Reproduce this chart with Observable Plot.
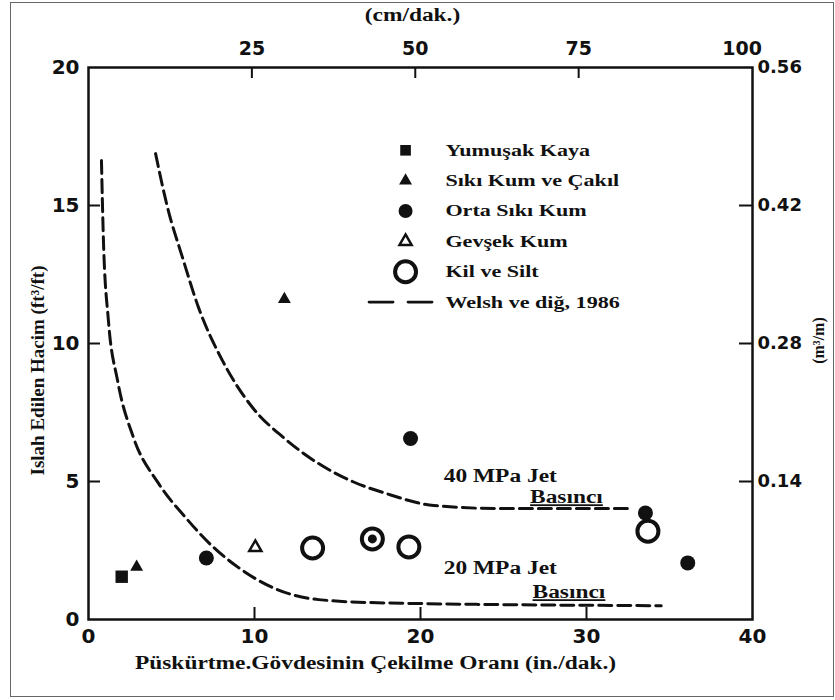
<!DOCTYPE html>
<html><head><meta charset="utf-8">
<script src="https://cdn.jsdelivr.net/npm/d3@7"></script>
<script src="https://cdn.jsdelivr.net/npm/@observablehq/plot@0.6"></script>
<style>
body{margin:0;background:#fff;}
#wrap{position:relative;width:835px;height:700px;overflow:hidden;}
#wrap svg{position:absolute;left:0;top:0;}
#border{position:absolute;left:10px;top:2px;width:824px;height:695px;border:1.5px solid #666;box-sizing:border-box;pointer-events:none;}
</style></head><body><div id="wrap"></div>
<script>
// ---- data ----
const yumusakKaya = [{x: 2.0, y: 1.55}];
const sikiKumCakil = [{x: 2.9, y: 1.9}, {x: 11.8, y: 11.6}];
const ortaSikiKum = [{x: 7.1, y: 2.23}, {x: 19.4, y: 6.56}, {x: 33.55, y: 3.86}, {x: 36.1, y: 2.05}];
const ortaSikiKumInside = [{x: 17.1, y: 2.92}];
const gevsekKum = [{x: 10.05, y: 2.61}];
const kilSilt = [{x: 13.5, y: 2.59}, {x: 17.1, y: 2.92}, {x: 19.3, y: 2.63}, {x: 33.7, y: 3.2}];
const curve40x = [4.04, 4.76, 5.66, 6.63, 8.07, 9.88, 11.75, 13.86, 15.9, 17.9, 20.8, 24.8, 32.8];
const curve40y = [16.88, 14.93, 13.12, 11.3, 9.38, 7.68, 6.59, 5.65, 5.0, 4.57, 4.13, 4.02, 4.02];
const curve20x = [0.78, 0.9, 1.2, 1.75, 2.71, 4.22, 5.84, 7.47, 9.04, 11.08, 13.86, 17.9, 34.5];
const curve20y = [16.63, 13.73, 10.83, 8.66, 6.59, 4.93, 3.7, 2.65, 1.88, 1.16, 0.72, 0.6, 0.5];
const legendLabels = ["Yumuşak Kaya", "Sıkı Kum ve Çakıl", "Orta Sıkı Kum", "Gevşek Kum", "Kil ve Silt", "Welsh ve diğ, 1986"];
const xTicks = [0, 10, 20, 30, 40];
const yTicks = [0, 5, 10, 15, 20];
const cmTicks = [25, 50, 75, 100];
const m3Ticks = [0.14, 0.28, 0.42, 0.56];
const xTitle = "Püskürtme.Gövdesinin Çekilme Oranı (in./dak.)";
const yTitle = "Islah Edilen Hacim (ft³/ft)";
const topTitle = "(cm/dak.)";
const rightTitle = "(m³/m)";
const annotations = [
  {text: "40 MPa Jet", x: 21.4, y: 5.2},
  {text: "Basıncı", x: 26.6, y: 4.42},
  {text: "20 MPa Jet", x: 21.4, y: 1.85},
  {text: "Basıncı", x: 26.75, y: 0.98}
];

const CM_PER_IN = 2.54, M3_PER_FT3 = 0.028;
const W = 835, H = 700, ML = 88, MR = 83, MT = 67, MB = 81;
const innerW = W - ML - MR, innerH = H - MT - MB;
const curve40 = curve40x.map((x, i) => ({x, y: curve40y[i]}));
const curve20 = curve20x.map((x, i) => ({x, y: curve20y[i]}));
const legendRows = legendLabels.map((label, i) => ({label, y: 17 - 1.1 * i}));
const LX = 19.1, LT = 21.5;
const serif = "Liberation Serif, Times New Roman, serif";
const sans = "DejaVu Sans, sans-serif";
const ink = "#111";
const dash = "13,6";

const chart = Plot.plot({
  width: W, height: H,
  marginLeft: ML, marginRight: MR, marginTop: MT, marginBottom: MB,
  x: {domain: [0, 40]},
  y: {domain: [0, 20]},
  style: {background: "transparent", color: ink},
  marks: [
    Plot.frame({stroke: ink, strokeWidth: 2.5}),
    // axes (labels only; ticks drawn inward below)
    Plot.axisX(xTicks, {anchor: "bottom", tickSize: 0, tickPadding: 9, label: null, fontFamily: sans, fontWeight: "bold", fontSize: 20}),
    Plot.axisX(cmTicks.map(c => c / CM_PER_IN), {anchor: "top", tickSize: 0, tickPadding: 13, label: null, tickFormat: d => Math.round(d * CM_PER_IN), fontFamily: sans, fontWeight: "bold", fontSize: 19}),
    Plot.axisY(yTicks, {anchor: "left", tickSize: 0, tickPadding: 9, label: null, fontFamily: sans, fontWeight: "bold", fontSize: 20}),
    Plot.axisY(m3Ticks.map(m => m / M3_PER_FT3), {anchor: "right", tickSize: 0, tickPadding: 5, label: null, tickFormat: d => (d * M3_PER_FT3).toFixed(2), fontFamily: sans, fontWeight: "bold", fontSize: 18}),
    Plot.ruleX(xTicks.slice(1, -1), {insetTop: innerH - 12, stroke: ink, strokeWidth: 2}),
    Plot.ruleX(cmTicks.slice(0, -1).map(c => c / CM_PER_IN), {insetBottom: innerH - 11, stroke: ink, strokeWidth: 2}),
    Plot.ruleY(yTicks.slice(1, -1), {insetRight: innerW - 12, stroke: ink, strokeWidth: 2}),
    Plot.ruleY(m3Ticks.slice(0, -1).map(m => m / M3_PER_FT3), {insetLeft: innerW - 13, stroke: ink, strokeWidth: 2}),
    // titles
    Plot.text([topTitle], {frameAnchor: "top", lineAnchor: "middle", dy: -52, dx: -8, fontFamily: serif, fontWeight: "bold", fontSize: 18, fill: ink}),
    Plot.text([xTitle], {frameAnchor: "bottom", lineAnchor: "middle", dy: 44, dx: -45, fontFamily: serif, fontWeight: "bold", fontSize: 18, fill: ink}),
    Plot.text([yTitle], {frameAnchor: "left", textAnchor: "middle", lineAnchor: "middle", rotate: -90, dx: -51, dy: 27, fontFamily: serif, fontWeight: "bold", fontSize: 19, fill: ink}),
    Plot.text([rightTitle], {frameAnchor: "right", textAnchor: "middle", lineAnchor: "middle", rotate: -90, dx: 66, dy: -3, fontFamily: serif, fontWeight: "bold", fontSize: 16, fill: ink}),
    // Welsh et al. 1986 curves
    Plot.line(curve40, {x: "x", y: "y", curve: "monotone-x", stroke: ink, strokeWidth: 3, strokeDasharray: dash}),
    Plot.line(curve20, {x: "x", y: "y", curve: "monotone-x", stroke: ink, strokeWidth: 3, strokeDasharray: dash}),
    // data points
    Plot.dot(yumusakKaya, {x: "x", y: "y", symbol: "square", r: 7, fill: ink}),
    Plot.dot(sikiKumCakil, {x: "x", y: "y", symbol: "triangle", r: 4.8, fill: ink}),
    Plot.dot(ortaSikiKum, {x: "x", y: "y", r: 7.5, fill: ink}),
    Plot.dot(gevsekKum, {x: "x", y: "y", symbol: "triangle", r: 4.5, fill: "white", stroke: ink, strokeWidth: 2.5}),
    Plot.dot(kilSilt, {x: "x", y: "y", r: 10.5, fill: "none", stroke: ink, strokeWidth: 4}),
    Plot.dot(ortaSikiKumInside, {x: "x", y: "y", r: 4.5, fill: ink}),
    // legend
    Plot.dot([legendRows[0]], {x: LX, y: "y", symbol: "square", r: 6, fill: ink}),
    Plot.dot([legendRows[1]], {x: LX, y: "y", symbol: "triangle", r: 4.8, fill: ink}),
    Plot.dot([legendRows[2]], {x: LX, y: "y", r: 7, fill: ink}),
    Plot.dot([legendRows[3]], {x: LX, y: "y", symbol: "triangle", r: 4.5, fill: "white", stroke: ink, strokeWidth: 2.5}),
    Plot.dot([legendRows[4]], {x: LX, y: "y", r: 10.5, fill: "none", stroke: ink, strokeWidth: 4}),
    Plot.line([{x: LX - 2.2, y: legendRows[5].y}, {x: LX + 1.6, y: legendRows[5].y}], {x: "x", y: "y", stroke: ink, strokeWidth: 2.8, strokeDasharray: "24,15"}),
    Plot.text(legendRows, {x: LT, y: "y", text: "label", textAnchor: "start", fontFamily: serif, fontWeight: "bold", fontSize: 17, fill: ink}),
    // curve annotations
    Plot.text(annotations, {x: "x", y: "y", text: "text", textAnchor: "start", fontFamily: serif, fontWeight: "bold", fontSize: 18, fill: ink})
  ]
});

const wrap = document.getElementById("wrap");
wrap.appendChild(chart);
const border = document.createElement("div");
border.id = "border";
wrap.appendChild(border);

// the scanned original is horizontally widened: widen horizontal serif texts
const STRETCH = 1.3;
chart.querySelectorAll("text").forEach(t => {
  const tr = t.getAttribute("transform") || "";
  if (tr.includes("rotate")) return;
  const fam = getComputedStyle(t).fontFamily || "";
  if (!fam.includes("Serif")) return;
  const len = t.getComputedTextLength();
  if (len > 0) {
    t.setAttribute("textLength", (len * STRETCH).toFixed(1));
    t.setAttribute("lengthAdjust", "spacingAndGlyphs");
  }
  if (t.textContent === "Basıncı") t.style.textDecoration = "underline";
});
</script>
</body></html>
